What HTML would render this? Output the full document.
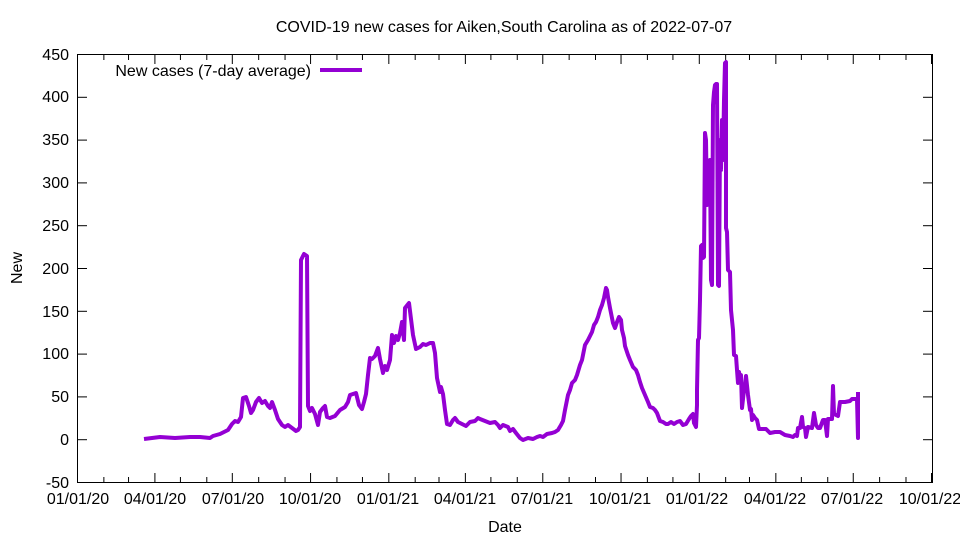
<!DOCTYPE html>
<html><head><meta charset="utf-8"><style>
body{margin:0;background:#fff}
svg text{font-family:"Liberation Sans",sans-serif;font-size:16px;fill:#000}
</style></head><body>
<svg width="960" height="540" viewBox="0 0 960 540" xmlns="http://www.w3.org/2000/svg">
<rect width="960" height="540" fill="#fff"/>
<text x="504" y="32" text-anchor="middle">COVID-19 new cases for Aiken,South Carolina as of 2022-07-07</text>
<g stroke="#000" stroke-width="1" fill="none" id="ticks"></g>
<rect x="77.5" y="54.5" width="855" height="428" fill="none" stroke="#000"/>
<g text-anchor="end">
<text x="69" y="488">-50</text><text x="69" y="445">0</text><text x="69" y="402">50</text>
<text x="69" y="359">100</text><text x="69" y="317">150</text><text x="69" y="274">200</text>
<text x="69" y="231">250</text><text x="69" y="188">300</text><text x="69" y="145">350</text>
<text x="69" y="102">400</text><text x="69" y="60">450</text>
</g>
<g text-anchor="middle">
<text x="78" y="504">01/01/20</text><text x="155" y="504">04/01/20</text><text x="233" y="504">07/01/20</text>
<text x="310" y="504">10/01/20</text><text x="388" y="504">01/01/21</text><text x="465" y="504">04/01/21</text>
<text x="542" y="504">07/01/21</text><text x="620" y="504">10/01/21</text><text x="697" y="504">01/01/22</text>
<text x="775" y="504">04/01/22</text><text x="852" y="504">07/01/22</text><text x="930" y="504">10/01/22</text>
<text x="505" y="532">Date</text>
</g>
<text transform="translate(22,268) rotate(-90)" text-anchor="middle">New</text>
<text x="311" y="76" text-anchor="end">New cases (7-day average)</text>
<line x1="320" y1="70" x2="362" y2="70" stroke="#9400d3" stroke-width="4"/>
<polyline fill="none" stroke="#9400d3" stroke-width="4" stroke-linejoin="round" points="
144,439 160,437 175,438 190,437 200,437 210,438 213,436 220,434 228,430 232,424 235,421 238,422 241,417 243,398 246,397 249,406 251,413 253,410 256,402 259,398 262,403 265,401 268,406 270,408 272,402 275,410 278,419 282,425 285,427 288,425 292,428 296,431 298,430 300,427 301,260 304,254 307,256 308,406 310,411 312,408 315,414 318,425 320,412 323,408 325,406 327,417 330,418 335,416 340,410 345,407 348,402 350,395 353,394 356,393 359,405 362,409 364,402 366,394 368,375 370,358 372,359 375,356 378,348 380,359 383,373 385,366 387,370 390,360 392,335 394,343 396,336 398,340 400,333 402,322 404,340 405,308 409,303 411,319 413,335 416,349 420,347 423,344 426,345 430,343 433,343 435,353 437,378 440,392 441,387 443,394 445,410 447,424 450,425 453,420 455,418 458,422 462,424 466,426 470,422 475,421 478,418 480,419 485,421 490,423 495,422 498,425 500,428 503,425 508,427 510,431 513,429 516,433 520,438 523,440 528,438 533,439 537,437 540,436 543,437 547,434 552,433 555,432 558,430 561,425 563,421 565,410 568,395 570,390 572,383 575,380 577,375 580,365 582,360 585,345 588,340 592,332 594,325 596,322 598,317 600,310 602,305 604,298 606,288 607,290 608,297 610,308 613,323 615,328 617,322 619,317 621,320 622,330 624,338 625,346 628,355 630,360 633,367 636,370 638,375 640,382 642,388 645,395 648,402 650,407 653,408 655,410 657,413 660,421 663,422 666,424 668,424 671,422 674,424 677,422 680,421 683,425 686,424 689,419 691,416 693,414 694,423 696,427 697,405 697,390 698,340 699,338 700,300 701,246 702,245 703,258 704,257 705,133 706,140 707,205 708,183 709,200 710,160 711,280 712,285 713,105 714,92 715,85 716,84 717,84 718,285 719,286 720,140 721,170 722,120 723,160 724,100 725,63 726,62 726,228 727,232 728,270 730,272 731,310 733,330 734,355 736,356 737,370 738,383 739,372 740,378 741,375 742,408 744,390 745,385 746,376 748,395 750,410 751,409 752,420 753,415 755,418 757,420 759,429 762,429 766,429 770,433 775,432 780,432 785,435 790,436 793,437 795,435 797,436 798,428 800,428 802,417 803,427 805,428 806,437 808,427 812,428 814,413 816,425 818,428 820,428 823,420 825,420 827,436 828,419 832,419 833,386 834,414 838,416 840,402 845,402 850,401 852,399 857,399 858,438 858,392"/>
</svg>
<script>
var g=document.getElementById('ticks'),s='';
for(var v=-50;v<=450;v+=50){var y=482.5-(v+50)*0.856;s+='<line x1="78" y1="'+y+'" x2="87" y2="'+y+'"/><line x1="932" y1="'+y+'" x2="923" y2="'+y+'"/>';}
var d=[0,31,29,31,30,31,30,31,31,30,31,30,31,31,28,31,30,31,30,31,31,30,31,30,31,31,28,31,30,31,30,31,31,30],c=0;
for(var m=0;m<34;m++){var x=77.5+c*0.8506;var L=(m%3==0)?9:5;s+='<line x1="'+x+'" y1="482" x2="'+x+'" y2="'+(482-L)+'"/><line x1="'+x+'" y1="55" x2="'+x+'" y2="'+(55+L)+'"/>';c+=d[m+1]||30;}
g.innerHTML=s;
</script>
</body></html>
